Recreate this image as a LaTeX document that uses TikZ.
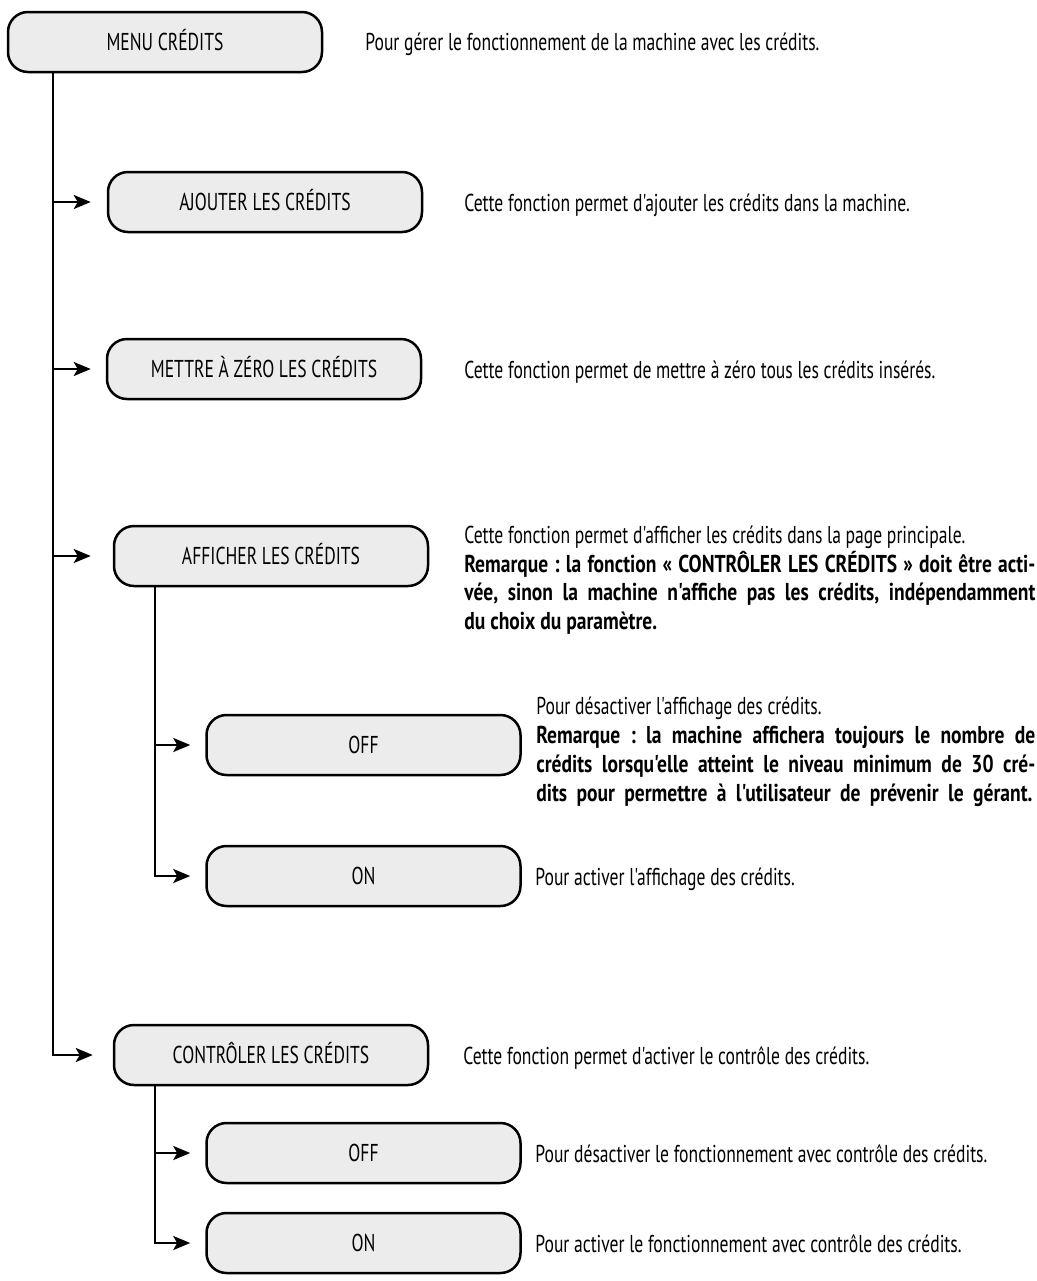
\documentclass[tikz,border=0pt]{standalone}
\usepackage{fontspec}
\setmainfont{PT Sans}[FakeStretch=0.72, Ligatures=TeXOff, BoldFeatures={FakeStretch=0.8}]
\usetikzlibrary{arrows.meta}
\definecolor{boxfill}{RGB}{236,236,236}
\newcommand\mytxt{\fontsize{12.2pt}{14.4pt}\selectfont\frenchspacing}
\tikzset{
  menubox/.style={draw=black, line width=1.25pt, fill=boxfill, rounded corners=10pt,
    minimum width=157pt, minimum height=30pt, inner sep=0pt,
    text height=8.5pt, text depth=0pt, font=\mytxt},
  desc/.style={anchor=base west, inner sep=0pt, font=\mytxt},
  arr/.style={line width=1.25pt, -{Stealth[length=8.5pt,width=7pt,inset=2pt]}},
}
\begin{document}
\begin{tikzpicture}[x=0.5pt, y=-0.5pt]
\fill[white] (0,0) rectangle (1037,1281);
\useasboundingbox (0,0) rectangle (1037,1281);

% boxes
\node[menubox] (menu)   at (165,42)    {MENU CRÉDITS};
\node[menubox] (ajout)  at (265,202)   {AJOUTER LES CRÉDITS};
\node[menubox] (mettre) at (264,369)   {METTRE À ZÉRO LES CRÉDITS};
\node[menubox] (affich) at (271,556)   {AFFICHER LES CRÉDITS};
\node[menubox] (offa)   at (363.5,745) {OFF};
\node[menubox] (ona)    at (363.5,876) {ON};
\node[menubox] (ctrl)   at (271,1055)  {CONTRÔLER LES CRÉDITS};
\node[menubox] (offb)   at (363.5,1153){OFF};
\node[menubox] (onb)    at (363.5,1243){ON};

% trunks
\coordinate (t0) at ([xshift=23pt]menu.south west);
\coordinate (t1) at ([xshift=21pt]affich.south west);
\coordinate (t2) at ([xshift=21pt]ctrl.south west);

% connectors
\draw[arr] (t0) |- ([xshift=-8pt]ajout.west);
\draw[arr] (t0) |- ([xshift=-7.5pt]mettre.west);
\draw[arr] (t0) |- ([xshift=-11pt]affich.west);
\draw[arr] (t0) |- ([xshift=-10pt]ctrl.west);
\draw[arr] (t1) |- ([xshift=-7.5pt]offa.west);
\draw[arr] (t1) |- ([xshift=-7.5pt]ona.west);
\draw[arr] (t2) |- ([xshift=-7.5pt]offb.west);
\draw[arr] (t2) |- ([xshift=-7.5pt]onb.west);

% descriptions
\node[desc] (d0) at (365,50) {Pour gérer le fonctionnement de la machine avec les crédits.};
\node[desc] (d1) at (464,211) {Cette fonction permet d'ajouter les crédits dans la machine.};
\node[desc] (d2) at (464,378) {Cette fonction permet de mettre à zéro tous les crédits insérés.};
\node[desc] (d3) at (464,543.5) {\vtop{\baselineskip=14.35pt
  \hbox{Cette fonction permet d'afficher les crédits dans la page principale.}
  \hbox to 285.5pt{\bfseries Remarque : la fonction « CONTRÔLER LES CRÉDITS » doit être acti-}
  \hbox to 285.5pt{\bfseries vée, sinon la machine n'affiche pas les crédits, indépendamment}
  \hbox{\bfseries du choix du paramètre.}}};
\node[desc] (d4) at (536,714) {\vtop{\baselineskip=14.5pt
  \hbox{Pour désactiver l'affichage des crédits.}
  \hbox to 249.5pt{\bfseries Remarque : la machine affichera toujours le nombre de}
  \hbox to 249.5pt{\bfseries crédits lorsqu'elle atteint le niveau minimum de 30 cré-}
  \hbox to 248pt{\bfseries dits pour permettre à l'utilisateur de prévenir le gérant.}}};
\node[desc] (d5) at (535,885) {Pour activer l'affichage des crédits.};
\node[desc] (d6) at (463,1064) {Cette fonction permet d'activer le contrôle des crédits.};
\node[desc] (d7) at (535,1162) {Pour désactiver le fonctionnement avec contrôle des crédits.};
\node[desc] (d8) at (535,1252) {Pour activer le fonctionnement avec contrôle des crédits.};
\end{tikzpicture}
\end{document}
